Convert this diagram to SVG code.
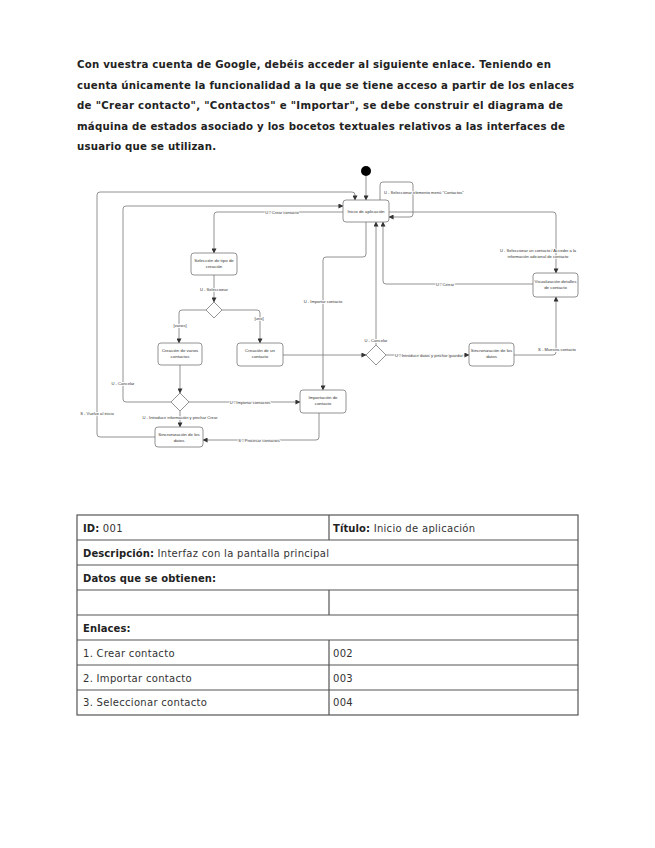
<svg xmlns="http://www.w3.org/2000/svg" width="655" height="848" viewBox="0 0 655 848">
<style>
.hdr{font-family:"DejaVu Sans",Verdana,sans-serif;font-weight:bold;font-size:10.2px;fill:#222}
.node rect{fill:#fff;stroke:#777;stroke-width:0.8}
.node text,.lbl{font-family:"Liberation Sans",Arial,sans-serif;fill:#333}
.node text{font-size:4.4px;text-anchor:middle}
.lbl{font-size:4.1px;text-anchor:middle;stroke:#fff;stroke-width:1.6;paint-order:stroke}
.dia{fill:#fff;stroke:#777;stroke-width:0.8}
#connectors path{fill:none;stroke:#777;stroke-width:0.8;marker-end:url(#ah)}
.tb{fill:none;stroke:#555;stroke-width:1.2}
.tt{font-family:"DejaVu Sans",Verdana,sans-serif;font-size:10px;fill:#333;letter-spacing:0.3px}
.tt tspan.b{font-weight:bold;fill:#222;letter-spacing:0.1px}
</style>
<defs>
<marker id="ah" viewBox="0 0 6 6" refX="5.5" refY="3" markerWidth="5" markerHeight="5" orient="auto" markerUnits="userSpaceOnUse">
<path d="M0,0 L6,3 L0,6 z" fill="#333"/>
</marker>
</defs>
<rect width="655" height="848" fill="#fff"/>
<g id="header">
<text class="hdr" x="77" y="68" textLength="474" lengthAdjust="spacing">Con vuestra cuenta de Google, debéis acceder al siguiente enlace. Teniendo en</text>
<text class="hdr" x="77" y="88.5" textLength="497" lengthAdjust="spacing">cuenta únicamente la funcionalidad a la que se tiene acceso a partir de los enlaces</text>
<text class="hdr" x="77" y="109" textLength="486" lengthAdjust="spacing">de "Crear contacto", "Contactos" e "Importar", se debe construir el diagrama de</text>
<text class="hdr" x="77" y="129.5" textLength="488" lengthAdjust="spacing">máquina de estados asociado y los bocetos textuales relativos a las interfaces de</text>
<text class="hdr" x="77" y="150" textLength="139" lengthAdjust="spacing">usuario que se utilizan.</text>
</g>
<g id="connectors">
<path d="M366,176 L366,200"/>
<path d="M380,200 L380,185 Q380,182 383,182 L410,182 Q413,182 413,185 L413,214 Q413,217 410,217 L389,217"/>
<path d="M343,212 L217,212 Q214,212 214,215 L214,253"/>
<path d="M171,402 L126,402 Q123,402 123,399 L123,209 Q123,206 126,206 L343,206"/>
<path d="M155,437 L100,437 Q97,437 97,434 L97,195 Q97,192 100,192 L352,192 Q355,192 355,195 L355,200"/>
<path d="M366,222 L366,254 Q366,257 363,257 L326,257 Q323,257 323,260 L323,390"/>
<path d="M376,345 L376,222"/>
<path d="M533,284 L386,284 Q383,284 383,281 L383,222"/>
<path d="M389,212 L553,212 Q556,212 556,215 L556,273"/>
<path d="M214,275 L214,302"/>
<path d="M206,310 L182,310 Q179,310 179,313 L179,343"/>
<path d="M222,310 L257,310 Q260,310 260,313 L260,343"/>
<path d="M283,355 L366,355"/>
<path d="M386,355 L469,355"/>
<path d="M514,355 L553,355 Q556,355 556,352 L556,297"/>
<path d="M180,365 L180,393"/>
<path d="M189,402 L300,402"/>
<path d="M180,411 L180,427"/>
<path d="M319,413 L319,437 Q319,440 316,440 L203,440"/>
<text class="lbl" x="384" y="194" style="text-anchor:start">U - Seleccionar elemento menú "Contactos"</text>
<text class="lbl" x="282" y="213.5">U - Crear contacto</text>
<text class="lbl" x="97" y="414.5">S - Vuelve al inicio</text>
<text class="lbl" x="123" y="384.5">U - Cancelar</text>
<text class="lbl" x="323" y="303">U - Importar contacto</text>
<text class="lbl" x="376" y="341.5">U - Cancelar</text>
<text class="lbl" x="445" y="285.5">U - Cerrar</text>
<text class="lbl" x="538" y="251.5">U - Seleccionar un contacto / Acceder a la</text>
<text class="lbl" x="538" y="257.5">información adicional de contacto</text>
<text class="lbl" x="214" y="290.5">U - Seleccionar</text>
<text class="lbl" x="180" y="327">[varios]</text>
<text class="lbl" x="259" y="320">[uno]</text>
<text class="lbl" x="429" y="356.5">U - Introducir datos y pinchar guardar</text>
<text class="lbl" x="557" y="351">S - Muestra contacto</text>
<text class="lbl" x="250" y="403.5">U - Importar contactos</text>
<text class="lbl" x="180" y="419">U - Introducir información y pinchar Crear</text>
<text class="lbl" x="259" y="441.5">S - Procesar contactos</text>
</g>
<g id="initial"><circle cx="366" cy="171" r="5" fill="#000"/></g>
<g id="inicio" class="node"><rect x="343" y="200" width="46" height="22" rx="3"/><text x="366" y="212.5">Inicio de aplicación</text></g>
<g id="seleccion" class="node"><rect x="191" y="253" width="46" height="22" rx="3"/><text x="214" y="262">Selección de tipo de</text><text x="214" y="268">creación</text></g>
<g id="varios" class="node"><rect x="158" y="343" width="44" height="22" rx="3"/><text x="180" y="352">Creación de varios</text><text x="180" y="358">contactos</text></g>
<g id="uno" class="node"><rect x="237" y="343" width="46" height="23" rx="3"/><text x="260" y="352">Creación de un</text><text x="260" y="358">contacto</text></g>
<g id="importacion" class="node"><rect x="300" y="390" width="46" height="23" rx="3"/><text x="323" y="399">Importación de</text><text x="323" y="405">contacto</text></g>
<g id="sinc1" class="node"><rect x="155" y="427" width="48" height="20" rx="3"/><text x="179" y="435.5">Sincronización de los</text><text x="179" y="441.5">datos</text></g>
<g id="sinc2" class="node"><rect x="469" y="343" width="45" height="23" rx="3"/><text x="491.5" y="352">Sincronización de los</text><text x="491.5" y="358">datos</text></g>
<g id="visualizacion" class="node"><rect x="533" y="273" width="45" height="24" rx="3"/><text x="555.5" y="283">Visualización detalles</text><text x="555.5" y="289">de contacto</text></g>
<g id="dec1"><path class="dia" d="M214,302 L222,310 L214,318 L206,310 z"/></g>
<g id="dec2"><path class="dia" d="M180,393 L189,402 L180,411 L171,402 z"/></g>
<g id="dec3"><path class="dia" d="M376,345 L386,355 L376,365 L366,355 z"/></g>
<g id="table">
<rect class="tb" x="77" y="515" width="501" height="200"/>
<path class="tb" d="M77,540 H578 M77,565 H578 M77,590 H578 M77,615 H578 M77,640 H578 M77,665 H578 M77,690 H578 M329,515 V540 M329,590 V615 M329,640 V715"/>
<text class="tt" x="83" y="531.5"><tspan class="b">ID:</tspan> 001</text>
<text class="tt" x="333" y="531.5"><tspan class="b">Título:</tspan> Inicio de aplicación</text>
<text class="tt" x="83" y="556.5"><tspan class="b">Descripción:</tspan> Interfaz con la pantalla principal</text>
<text class="tt" x="83" y="581.5"><tspan class="b">Datos que se obtienen:</tspan></text>
<text class="tt" x="83" y="631.5"><tspan class="b">Enlaces:</tspan></text>
<text class="tt" x="83" y="656.5">1. Crear contacto</text>
<text class="tt" x="333" y="656.5">002</text>
<text class="tt" x="83" y="681.5">2. Importar contacto</text>
<text class="tt" x="333" y="681.5">003</text>
<text class="tt" x="83" y="706">3. Seleccionar contacto</text>
<text class="tt" x="333" y="706">004</text>
</g>
</svg>
